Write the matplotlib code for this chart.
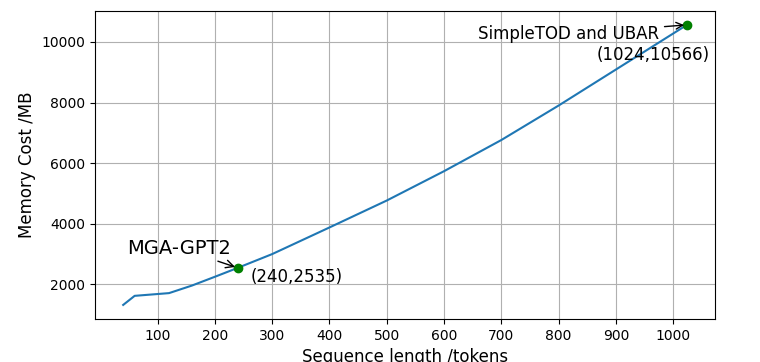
import matplotlib
matplotlib.use("Agg")
import matplotlib.pyplot as plt

seq_len = [40, 60, 120, 160, 200, 240, 300, 400, 500, 600, 700, 800, 900, 1024]
memory = [1310, 1610, 1700, 1950, 2240, 2535, 2990, 3870, 4760, 5730, 6760, 7900, 9090, 10566]
x_ticks = [100, 200, 300, 400, 500, 600, 700, 800, 900, 1000]

ours = (240, 2535)
baseline = (1024, 10566)

fig = plt.figure(figsize=(7.6, 3.62), dpi=100)
fig.subplots_adjust(left=0.125, right=0.941, bottom=0.119, top=0.97)
ax = fig.add_subplot(111)

ax.plot(seq_len, memory)
ax.plot(*ours, 'o', color='green')
ax.plot(*baseline, 'o', color='green')

ax.annotate('MGA-GPT2', xy=ours, xytext=(46, 3190), fontsize=14, va='center',
            arrowprops=dict(arrowstyle='->'))
ax.text(263, 2240, '(240,2535)', fontsize=12, va='center')

ax.annotate('SimpleTOD and UBAR', xy=baseline, xytext=(659, 10260), fontsize=12, va='center',
            arrowprops=dict(arrowstyle='->'))
ax.text(1064, 9570, '(1024,10566)', fontsize=12, va='center', ha='right')

ax.set_xticks(x_ticks)
ax.set_xlabel('Sequence length /tokens', fontsize=12)
ax.set_ylabel('Memory Cost /MB', fontsize=12)
ax.grid(True)

fig.savefig('out.png')
